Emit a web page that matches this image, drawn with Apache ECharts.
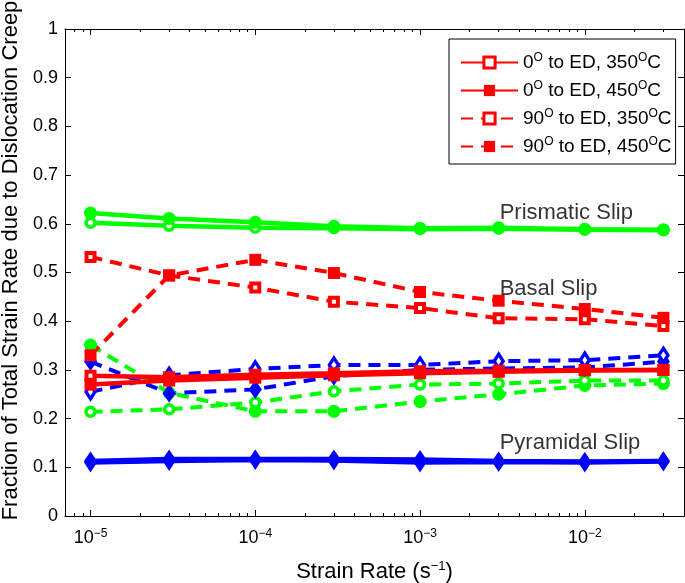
<!DOCTYPE html>
<html><head><meta charset="utf-8">
<script src="https://cdn.jsdelivr.net/npm/echarts@6/dist/echarts.min.js"></script>
<style>html,body{margin:0;padding:0;background:#fff}#c{width:685px;height:583px}</style>
</head><body><div id="c"></div>
<script>
// ---- data ----
const strainRates = [1e-5, 3e-5, 1e-4, 3e-4, 1e-3, 3e-3, 1e-2, 3e-2];
const xRange = [7e-6, 0.04];
const majorTicks = [1e-5, 1e-4, 1e-3, 1e-2];
const minorTicks = [8e-6, 9e-6,
  2e-5, 3e-5, 4e-5, 5e-5, 6e-5, 7e-5, 8e-5, 9e-5,
  2e-4, 3e-4, 4e-4, 5e-4, 6e-4, 7e-4, 8e-4, 9e-4,
  2e-3, 3e-3, 4e-3, 5e-3, 6e-3, 7e-3, 8e-3, 9e-3,
  2e-2, 3e-2];
const legendNames = ['0° to ED, 350°C', '0° to ED, 450°C', '90° to ED, 350°C', '90° to ED, 450°C'];

// Basal slip (red squares)
const basal0_350  = [0.288, 0.285, 0.290, 0.293, 0.297, 0.298, 0.300, 0.300];
const basal0_450  = [0.270, 0.278, 0.284, 0.289, 0.293, 0.296, 0.299, 0.300];
const basal90_350 = [0.532, 0.494, 0.469, 0.440, 0.427, 0.406, 0.404, 0.390];
const basal90_450 = [0.330, 0.494, 0.526, 0.499, 0.460, 0.442, 0.425, 0.407];
// Prismatic slip (green circles)
const prism0_350  = [0.602, 0.596, 0.592, 0.591, 0.589, 0.590, 0.588, 0.587];
const prism0_450  = [0.622, 0.611, 0.603, 0.595, 0.591, 0.592, 0.589, 0.588];
const prism90_350 = [0.214, 0.219, 0.233, 0.256, 0.270, 0.272, 0.278, 0.278];
const prism90_450 = [0.351, 0.253, 0.215, 0.215, 0.235, 0.250, 0.268, 0.272];
// Pyramidal slip (blue diamonds)
const pyr0_350  = [0.110, 0.113, 0.115, 0.114, 0.110, 0.111, 0.110, 0.112];
const pyr0_450  = [0.113, 0.117, 0.117, 0.117, 0.116, 0.113, 0.112, 0.113];
const pyr90_350 = [0.255, 0.289, 0.302, 0.310, 0.310, 0.318, 0.320, 0.330];
const pyr90_450 = [0.317, 0.252, 0.260, 0.287, 0.300, 0.303, 0.305, 0.317];

const annotations = [['Prismatic Slip', 3e-3, 0.622], ['Basal Slip', 3e-3, 0.466], ['Pyramidal Slip', 3e-3, 0.150]];

// ---- chart ----
const FONT = "'Liberation Sans', Arial, Helvetica, sans-serif";
const RED = '#ff0000', GREEN = '#00ff00', BLUE = '#0000ff';
const lg = Math.log10;
const sup = { fontSize: 12, fontFamily: FONT, color: '#000', padding: [0, 0, 9, 0] };
const supL = { fontSize: 13, fontFamily: FONT, color: '#000', padding: [0, 0, 10, 0] };

function mk(name, vals, color, symbol, filled, dashed) {
  let size, border = 0;
  if (symbol === 'circle') { size = filled ? 13 : 9; border = filled ? 0 : 3.5; }
  else if (symbol === 'rect') { size = filled ? 12 : 8; border = filled ? 0 : 4; }
  else { size = filled ? [13, 19] : [9, 14]; border = filled ? 0 : 3.5; }
  return {
    name: name, type: 'line', xAxisIndex: 0, yAxisIndex: 0,
    data: strainRates.map((r, i) => [lg(r), vals[i]]),
    symbol: symbol, symbolSize: size, showAllSymbol: true,
    lineStyle: { color: color, width: dashed ? 4 : 4.5, type: dashed ? [12, 8] : 'solid' },
    itemStyle: { color: filled ? color : '#ffffff', borderColor: color, borderWidth: border, opacity: 1 },
    emphasis: { disabled: true }, animation: false, z: 3
  };
}

const series = [
  mk('Prismatic 90 450', prism90_450, GREEN, 'circle', true, true),
  mk('Prismatic 90 350', prism90_350, GREEN, 'circle', false, true),
  mk('Pyramidal 90 450', pyr90_450, BLUE, 'diamond', true, true),
  mk('Pyramidal 90 350', pyr90_350, BLUE, 'diamond', false, true),
  mk(legendNames[0], basal0_350, RED, 'rect', false, false),
  mk(legendNames[1], basal0_450, RED, 'rect', true, false),
  mk(legendNames[2], basal90_350, RED, 'rect', false, true),
  mk(legendNames[3], basal90_450, RED, 'rect', true, true),
  mk('Prismatic 0 350', prism0_350, GREEN, 'circle', false, false),
  mk('Prismatic 0 450', prism0_450, GREEN, 'circle', true, false),
  mk('Pyramidal 0 350', pyr0_350, BLUE, 'diamond', false, false),
  mk('Pyramidal 0 450', pyr0_450, BLUE, 'diamond', true, false),
  {
    name: 'annotations', type: 'scatter', symbolSize: 0,
    data: annotations.map(a => [lg(a[1]), a[2], a[0]]),
    label: { show: true, position: 'right', distance: 1, formatter: p => p.data[2],
      fontSize: 22, fontFamily: FONT, color: '#000' },
    emphasis: { disabled: true }, silent: true, animation: false, z: 5
  }
];

function xAxisDef(position, ticks, len, showLine, showLabel) {
  return {
    type: 'value', position: position, min: lg(xRange[0]), max: lg(xRange[1]),
    axisLine: { show: showLine, onZero: false, lineStyle: { color: '#000', width: 1 } },
    axisTick: { show: true, inside: true, length: len, customValues: ticks.map(lg), lineStyle: { color: '#000', width: 1 } },
    axisLabel: showLabel ? {
      show: true, customValues: majorTicks.map(lg), margin: 12,
      formatter: v => '10{s|−' + Math.round(-v) + '}',
      fontSize: 18, fontFamily: FONT, color: '#000',
      rich: { s: sup }
    } : { show: false },
    splitLine: { show: false },
    name: (position === 'bottom' && showLabel) ? 'Strain Rate (s{s|−1})' : '',
    nameLocation: 'middle', nameGap: 44,
    nameTextStyle: { fontSize: 22, fontFamily: FONT, color: '#000', rich: { s: supL } }
  };
}

const option = {
  backgroundColor: '#ffffff',
  animation: false,
  grid: { left: 65, right: 1, top: 29, bottom: 67, containLabel: false, outerBoundsMode: 'none' },
  xAxis: [
    xAxisDef('bottom', majorTicks, 6, true, true),
    xAxisDef('bottom', minorTicks, 3, false, false),
    xAxisDef('top', majorTicks, 6, true, false),
    xAxisDef('top', minorTicks, 3, false, false)
  ],
  yAxis: [
    {
      type: 'value', position: 'left', min: 0, max: 1, interval: 0.1,
      axisLine: { show: true, onZero: false, lineStyle: { color: '#000', width: 1 } },
      axisTick: { show: true, inside: true, length: 6, lineStyle: { color: '#000' } },
      axisLabel: { fontSize: 18, fontFamily: FONT, color: '#000', margin: 7 },
      splitLine: { show: false },
      name: 'Fraction of Total Strain Rate due to Dislocation Creep',
      nameLocation: 'middle', nameGap: 42, nameRotate: 90,
      nameTextStyle: { fontSize: 22, fontFamily: FONT, color: '#000', padding: [0, 0, 0, 24] }
    },
    {
      type: 'value', position: 'right', min: 0, max: 1, interval: 0.1,
      axisLine: { show: true, onZero: false, lineStyle: { color: '#000', width: 1 } },
      axisTick: { show: true, inside: true, length: 6, lineStyle: { color: '#000' } },
      axisLabel: { show: false }, splitLine: { show: false }
    }
  ],
  legend: {
    data: legendNames.map((n, i) => ({ name: n, itemStyle: (i % 2 === 0) ? { borderWidth: 3 } : {} })),
    orient: 'vertical', left: 449, top: 39,
    itemWidth: 57, itemHeight: 14, itemGap: 8,
    padding: [13, 4, 8, 11],
    backgroundColor: '#fff', borderColor: '#000', borderWidth: 1, borderRadius: 0,
    selectedMode: false,
    formatter: n => n.replace(/°/g, '{s|O}'),
    textStyle: { fontSize: 19, fontFamily: FONT, color: '#000', lineHeight: 19, rich: { s: sup } }
  },
  series: series
};

const chart = echarts.init(document.getElementById('c'), null, { renderer: 'canvas' });
chart.setOption(option);
</script>
</body></html>
